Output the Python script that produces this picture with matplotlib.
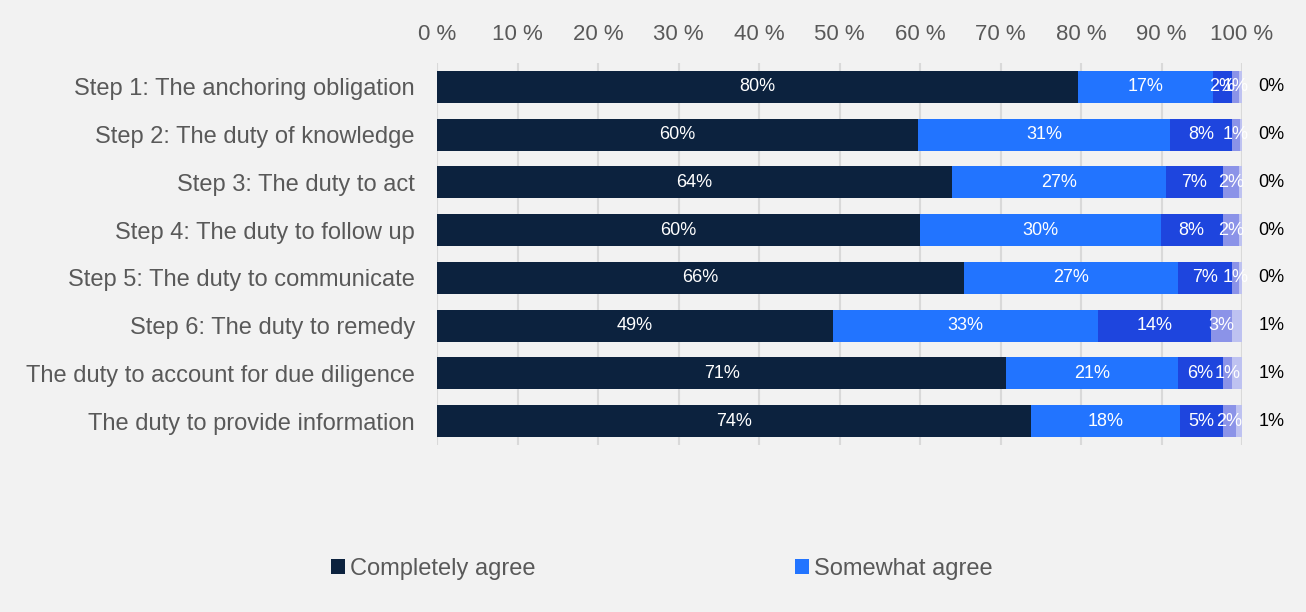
import numpy as np
import matplotlib.pyplot as plt
from matplotlib.patches import Patch

plt.rcParams['font.family'] = ['Liberation Sans', 'DejaVu Sans']

categories = [
    "Step 1: The anchoring obligation",
    "Step 2: The duty of knowledge",
    "Step 3: The duty to act",
    "Step 4: The duty to follow up",
    "Step 5: The duty to communicate",
    "Step 6: The duty to remedy",
    "The duty to account for due diligence",
    "The duty to provide information",
]
completely_agree = [79.6, 59.8, 64.0, 60.0, 65.5, 49.2, 70.7, 73.8]
somewhat_agree = [16.8, 31.3, 26.6, 29.9, 26.6, 32.9, 21.3, 18.5]
third_answer = [2.3, 7.7, 7.0, 7.7, 6.6, 14.0, 5.6, 5.3]
fourth_answer = [0.9, 0.9, 2.0, 2.0, 0.9, 2.7, 1.2, 1.6]
fifth_answer = [0.4, 0.4, 0.4, 0.4, 0.4, 1.2, 1.2, 0.8]
legend_labels = ["Completely agree", "Somewhat agree"]

series = [completely_agree, somewhat_agree, third_answer, fourth_answer, fifth_answer]
colors = ["#0C223E", "#2274FF", "#1E45DE", "#8B93E8", "#BEC2F1"]

fig = plt.figure(figsize=(13.06, 6.12), dpi=100, facecolor="#F2F2F2")
ax = fig.add_axes([437 / 1306, 1 - 445 / 612, 805 / 1306, 382 / 612])
ax.set_facecolor("#F2F2F2")

y = np.arange(len(categories))
left = np.zeros(len(categories))
for i, (vals, col) in enumerate(zip(series, colors)):
    vals = np.array(vals)
    ax.barh(y, vals, left=left, height=0.67, color=col, zorder=3)
    for yi, (l, v) in enumerate(zip(left, vals)):
        txt = f"{round(v)}%"
        if i < 4:
            ax.text(l + v / 2, yi, txt, ha="center", va="center",
                    color="white", fontsize=13, zorder=4)
        else:
            ax.text(103.7, yi, txt, ha="center", va="center",
                    color="black", fontsize=13, zorder=4, clip_on=False)
    left += vals

ax.set_xlim(0, 100)
ax.set_ylim(len(categories) - 0.5, -0.5)
ax.set_xticks(np.arange(0, 101, 10))
ax.set_xticklabels([f"{t} %" for t in range(0, 101, 10)])
ax.xaxis.tick_top()
ax.tick_params(axis="x", length=0, pad=13, labelsize=16, labelcolor="#595959")
ax.set_yticks(y)
ax.set_yticklabels(categories)
ax.tick_params(axis="y", length=0, pad=16, labelsize=17, labelcolor="#595959")
ax.grid(axis="x", color="#D9D9D9", linewidth=1.5, zorder=0)
for s in ax.spines.values():
    s.set_visible(False)

handles = [Patch(facecolor=colors[0]), Patch(facecolor=colors[1])]
leg = fig.legend(handles, legend_labels, loc="center", ncol=2,
                 bbox_to_anchor=(662 / 1306, 1 - 569 / 612), frameon=False,
                 fontsize=17, handlelength=0.6, handleheight=0.6,
                 handletextpad=0.2, columnspacing=11)
for t in leg.get_texts():
    t.set_color("#595959")

fig.savefig("out.png", dpi=100, facecolor=fig.get_facecolor())
